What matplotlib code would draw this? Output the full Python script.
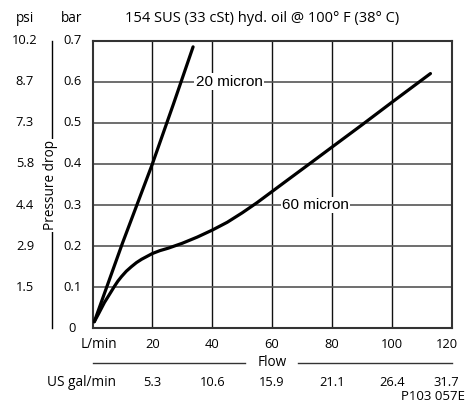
import matplotlib
matplotlib.use('Agg')
from matplotlib import pyplot as plt
from matplotlib.lines import Line2D

# axis values
flow_ticks = [20, 40, 60, 80, 100, 120]
gal_labels = ['5.3', '10.6', '15.9', '21.1', '26.4', '31.7']
bar_ticks = [0, 0.1, 0.2, 0.3, 0.4, 0.5, 0.6, 0.7]
bar_labels = ['0', '0.1', '0.2', '0.3', '0.4', '0.5', '0.6', '0.7']
psi_labels = ['', '1.5', '2.9', '4.4', '5.8', '7.3', '8.7', '10.2']

# 20 micron element
flow_20 = [0.6, 10, 20, 27, 33.6]
dp_20 = [0.016, 0.207, 0.40, 0.545, 0.685]

# 60 micron element
flow_60 = [0.6, 2, 3, 4, 5.2, 6.3, 7.4, 8.5, 9.7, 11.3, 13, 14.7, 16.4, 18.2,
           20, 22.5, 25.3, 30, 35, 40, 45, 50, 55, 60, 65, 72.8, 80, 90, 100,
           112.9]
dp_60 = [0.016, 0.035, 0.049, 0.063, 0.077, 0.090, 0.103, 0.115, 0.126, 0.139,
         0.150, 0.160, 0.168, 0.175, 0.182, 0.189, 0.195, 0.207, 0.222, 0.239,
         0.258, 0.281, 0.306, 0.333, 0.36, 0.402, 0.441, 0.495, 0.55, 0.62]

W, H = 467, 408
font = 'Open Sans'
fs = 9.3
fs_word = 9.8


def fx(px):
    return px / W


def fy(py):
    return 1 - py / H


fig = plt.figure(figsize=(W / 100, H / 100), dpi=100)
ax = fig.add_axes([fx(92.5), fy(328.3), (451.7 - 92.5) / W, (328.3 - 40.7) / H])

ax.set_xlim(0, 120)
ax.set_ylim(0, 0.7)
ax.set_xticks(flow_ticks)
ax.set_yticks(bar_ticks)
ax.set_xticklabels([])
ax.set_yticklabels([])
ax.tick_params(length=0)
for t in flow_ticks:
    ax.axvline(t, color='#111111', lw=1.0, zorder=1)
for b in bar_ticks[1:]:
    ax.axhline(b, color='#555555', lw=1.2, zorder=1)
for s in ax.spines.values():
    s.set_color('#333333')
    s.set_linewidth(1.5)

ax.plot(flow_20, dp_20, color='black', lw=2.3, solid_capstyle='round', zorder=3)
ax.plot(flow_60, dp_60, color='black', lw=2.3, solid_capstyle='round',
        solid_joinstyle='round', zorder=3)

box = dict(facecolor='white', edgecolor='none', pad=1.0)
ax.text(34.5, 0.6, '20 micron', family='Liberation Sans', fontsize=11,
        ha='left', va='center', bbox=box, zorder=4)
ax.text(63.3, 0.3, '60 micron', family='Liberation Sans', fontsize=11,
        ha='left', va='center', bbox=box, zorder=4)

# left side labels
fig.text(fx(25), fy(18), 'psi', family=font, fontsize=fs_word, ha='center', va='center')
fig.text(fx(72), fy(18), 'bar', family=font, fontsize=fs_word, ha='center', va='center')
for b, bl, pl in zip(bar_ticks, bar_labels, psi_labels):
    py = 328.3 - b / 0.7 * (328.3 - 40.7)
    fig.text(fx(72), fy(py), bl, family=font, fontsize=fs, ha='center', va='center')
    if pl:
        fig.text(fx(25), fy(py), pl, family=font, fontsize=fs, ha='center', va='center')
fig.add_artist(Line2D([fx(51.7), fx(51.7)], [fy(41), fy(328.3)],
                      transform=fig.transFigure, color='black', lw=1.0))
fig.text(fx(51), fy(185.5), 'Pressure drop', family=font, fontsize=fs_word,
         rotation=90, ha='center', va='center',
         bbox=dict(facecolor='white', edgecolor='none', pad=1.0))

# bottom labels
fig.text(fx(99), fy(345), 'L/min', family=font, fontsize=fs_word, ha='center', va='center')
fig.text(fx(81.7), fy(382), 'US gal/min', family=font, fontsize=fs_word, ha='center', va='center')
for t, g in zip(flow_ticks, gal_labels):
    px = 92.5 + t / 120 * (451.7 - 92.5)
    if t == 120:
        px -= 5
    fig.text(fx(px), fy(345), str(t), family=font, fontsize=fs, ha='center', va='center')
    fig.text(fx(px), fy(382), g, family=font, fontsize=fs, ha='center', va='center')
# flow rule, broken around its label
for x0, x1 in [(92.5, 245), (298, 451.7)]:
    fig.add_artist(Line2D([fx(x0), fx(x1)], [fy(362.7), fy(362.7)],
                          transform=fig.transFigure, color='#333333', lw=1.0))
fig.text(fx(271.7), fy(362.7), 'Flow', family=font, fontsize=fs_word, ha='center', va='center')
fig.text(fx(465), fy(397), 'P103 057E', family=font, fontsize=9.5, ha='right', va='center')

fig.text(fx(261.7), fy(18), '154 SUS (33 cSt) hyd. oil @ 100\u00b0 F (38\u00b0 C)',
         family=font, fontsize=10.5, ha='center', va='center')

fig.savefig('out.png', dpi=100)
